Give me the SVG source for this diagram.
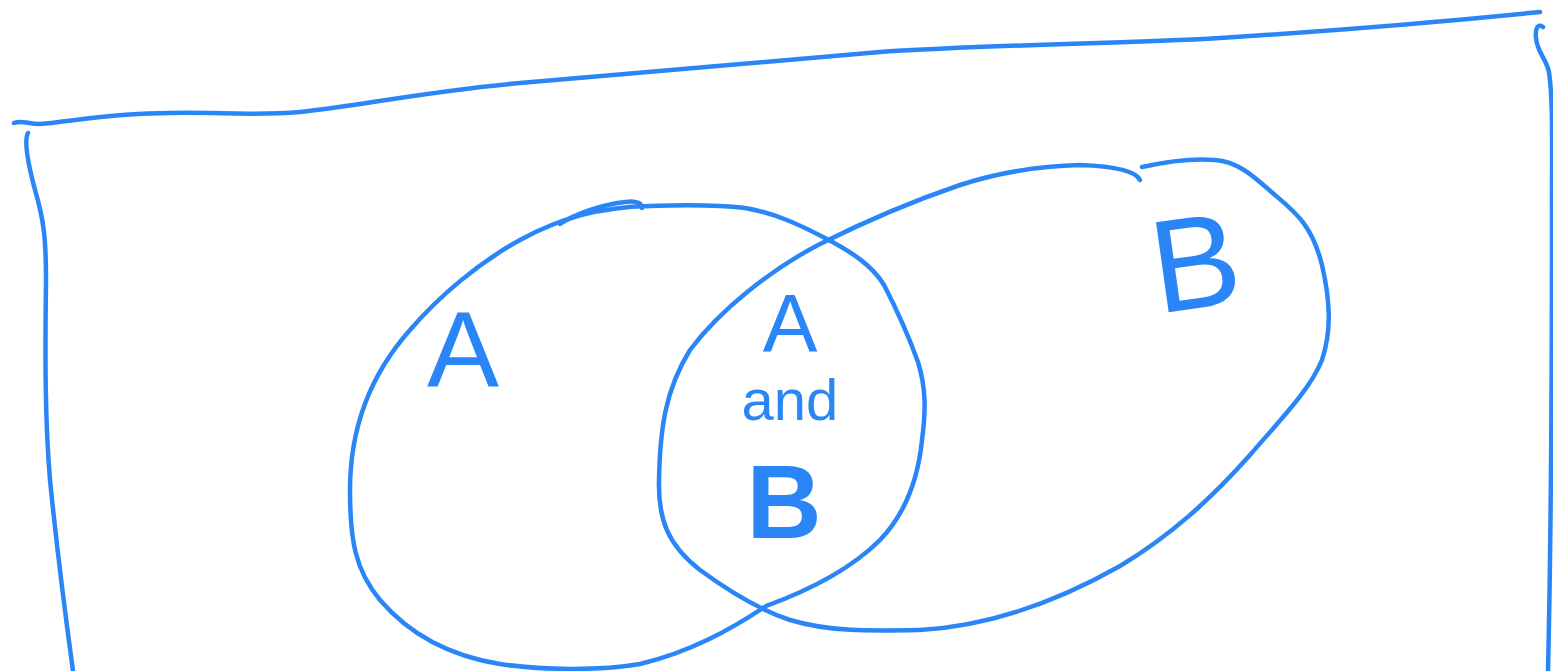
<svg xmlns="http://www.w3.org/2000/svg" width="1553" height="671" viewBox="0 0 1553 671">
<style>
.ink{fill:none;stroke:#2a86f6;stroke-width:4.5;stroke-linecap:round;stroke-linejoin:round}
.lbl{fill:#2a86f6;font-family:"Liberation Sans",Arial,sans-serif;text-anchor:middle}
</style>
<rect width="1553" height="671" fill="#ffffff"/>
<g id="frame">
<path class="ink" d="M14,123 C22,120 28,124 40,124 C70,122 110,113 170,113 C220,112 250,116 300,112 C360,106 420,92 520,83 C640,72 760,62 880,52 C1000,44 1120,44 1220,38 C1330,31 1440,22 1540,12"/>
<path class="ink" d="M28,133 C24,140 27,160 35,190 C44,220 46,240 46,280 C45,360 45,420 50,480 C58,560 66,620 73,671"/>
<path class="ink" d="M1543,27 C1538,23 1535,28 1536,38 C1537,52 1546,58 1549,72 C1553,100 1552,140 1552,200 C1552,350 1552,500 1548,671"/>
</g>
<g id="set-a">
<path class="ink" d="M560,224 C575,214 600,205 625,202 C638,200 642,204 642,208"/>
<path class="ink" d="M766,606 C730,630 690,652 640,664 C600,671 540,670 500,664 C450,656 410,635 380,600 C355,570 350,540 350,490 C350,430 370,375 410,330 C440,295 480,262 520,240 C560,218 600,207 650,206 C680,205 720,205 745,208 C775,213 800,225 825,238 C850,251 872,265 884,285 C898,312 910,340 918,362 C926,388 926,410 922,440 C918,480 904,515 880,540 C850,570 810,590 766,606"/>
</g>
<g id="set-b">
<path class="ink" d="M1140,180 C1135,170 1110,166 1080,165 C1040,166 1000,172 960,185 C910,202 860,224 820,244 C770,270 720,310 690,350 C665,390 660,430 659,480 C658,520 668,545 700,570 C730,592 760,610 790,620 C830,632 870,631 920,630 C990,626 1060,600 1120,566 C1170,536 1210,500 1250,455 C1280,420 1310,390 1322,360 C1332,330 1330,300 1322,265 C1312,225 1295,212 1275,195 C1255,178 1240,162 1215,160 C1190,158 1160,163 1142,167"/>
</g>
<g id="labels">
<text class="lbl" x="463" y="387" font-size="108">A</text>
<text class="lbl" x="790" y="351" font-size="82">A</text>
<text class="lbl" x="790" y="420" font-size="58">and</text>
<text class="lbl" x="784" y="538" font-size="104" font-weight="bold">B</text>
<text class="lbl" x="1195" y="308" font-size="132" transform="rotate(-8 1195 260)">B</text>
</g>
</svg>
